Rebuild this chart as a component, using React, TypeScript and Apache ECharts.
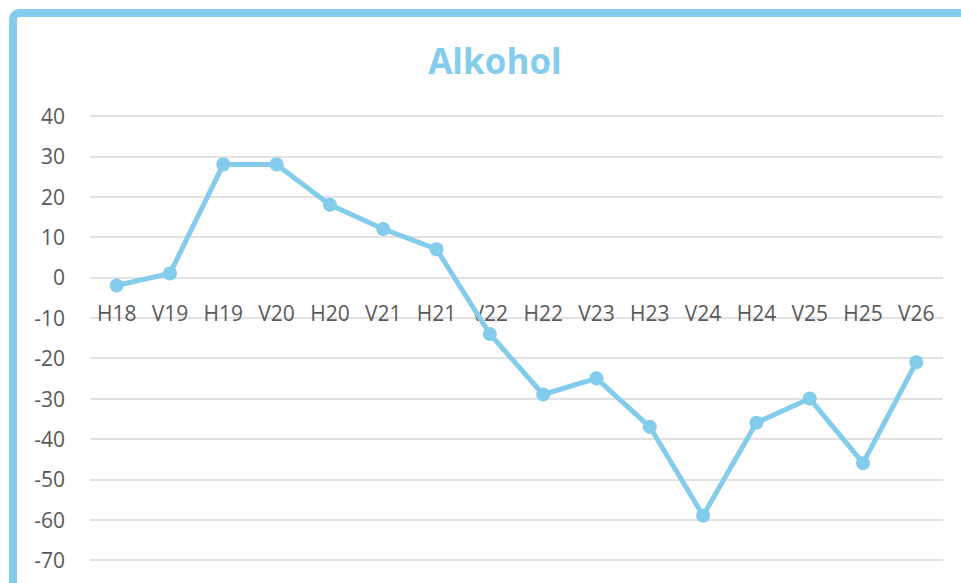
import React, { useEffect, useRef } from "react";
import * as echarts from "echarts";

const categories = ["H18", "V19", "H19", "V20", "H20", "V21", "H21", "V22", "H22", "V23", "H23", "V24", "H24", "V25", "H25", "V26"];
const values = [-2, 1, 28, 28, 18, 12, 7, -14, -29, -25, -37, -59, -36, -30, -46, -21];
const yMin = -70;
const yMax = 40;
const yInterval = 10;
const title = "Alkohol";

const BLUE = "#83CCEB";
const FONT = "'Open Sans', 'Noto Sans', sans-serif";

const GRID_TOP = 116;
const GRID_BOTTOM_Y = 560;

export default function App() {
  const ref = useRef<HTMLDivElement>(null);
  useEffect(() => {
    if (!ref.current) return;
    const chart = echarts.init(ref.current, undefined, { renderer: "svg" });
    const zeroY = GRID_TOP + ((yMax - 0) / (yMax - yMin)) * (GRID_BOTTOM_Y - GRID_TOP);
    chart.setOption({
      animation: false,
      backgroundColor: "#ffffff",
      title: {
        text: title,
        left: 490,
        textAlign: "center",
        top: 38,
        textStyle: { color: BLUE, fontSize: 35, fontWeight: "bold", fontFamily: FONT },
      },
      graphic: [
        {
          type: "rect",
          shape: { x: 13, y: 13, width: 1100, height: 800, r: 6 },
          style: { fill: "none", stroke: BLUE, lineWidth: 8 },
          silent: true,
          z: 100,
        },
      ],
      grid: { left: 90, right: 18, top: GRID_TOP, bottom: 583 - GRID_BOTTOM_Y, containLabel: false, outerBoundsMode: "none" },
      xAxis: {
        type: "category",
        data: categories,
        boundaryGap: true,
        offset: -(GRID_BOTTOM_Y - zeroY),
        axisLine: { show: false, onZero: false },
        axisTick: { show: false },
        axisLabel: { color: "#595959", fontSize: 21, fontFamily: FONT, margin: 25, interval: 0 },
      },
      yAxis: {
        type: "value",
        min: yMin,
        max: yMax,
        interval: yInterval,
        axisLine: { show: false },
        axisTick: { show: false },
        axisLabel: { color: "#595959", fontSize: 21, fontFamily: FONT, margin: 25 },
        splitLine: { lineStyle: { color: "#d9d9d9", width: 1.5 } },
      },
      series: [
        {
          type: "line",
          data: values,
          symbol: "circle",
          symbolSize: 14,
          lineStyle: { color: BLUE, width: 5 },
          itemStyle: { color: BLUE },
        },
      ],
    });
    return () => chart.dispose();
  }, []);
  return <div ref={ref} style={{ position: "absolute", left: 0, top: 0, width: 961, height: 583 }} />;
}
